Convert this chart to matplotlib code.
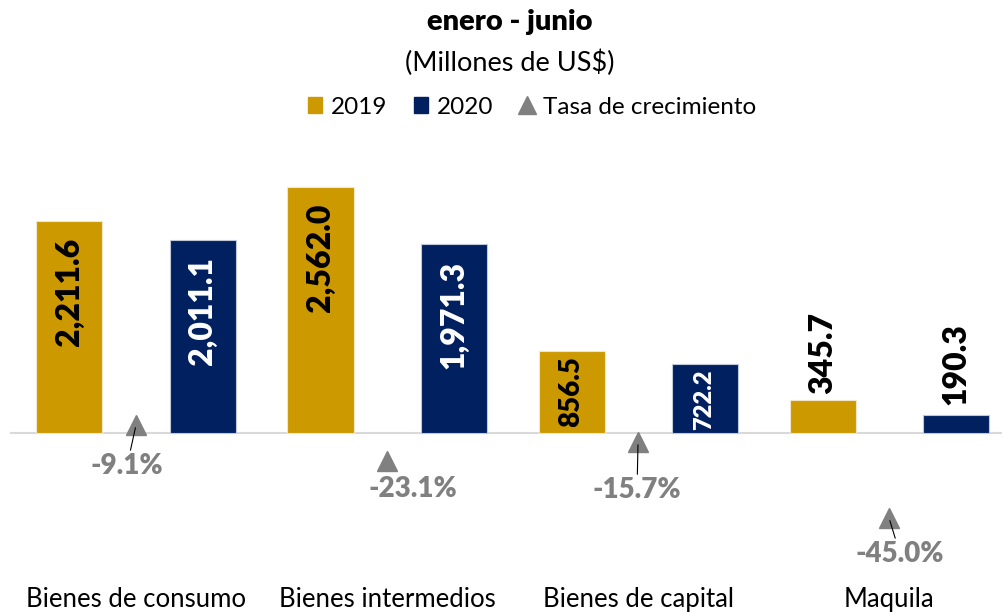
import matplotlib
matplotlib.use("Agg")
import matplotlib.pyplot as plt
from matplotlib.lines import Line2D
from matplotlib.patches import Patch
import numpy as np

plt.rcParams['font.family'] = ['Lato', 'DejaVu Sans']

categorias = ["Bienes de consumo", "Bienes intermedios", "Bienes de capital", "Maquila"]
valores_2019 = [2211.6, 2562.0, 856.5, 345.7]
valores_2020 = [2011.1, 1971.3, 722.2, 190.3]
tasa = [-9.1, -23.1, -15.7, -45.0]

ORO = "#CC9900"
AZUL = "#002060"
GRIS = "#808080"

W, H = 1002, 616
fig = plt.figure(figsize=(W / 100, H / 100), dpi=100)

# layout in pixels (top-down)
top_px, bot_px = 140, 580
base_px = 433
px_per_unit = 246 / 2562.0
zero2_px = 401.4
px_per_pct = 2.59

ax = fig.add_axes([10 / W, 1 - bot_px / H, 1 - 10 / W, (bot_px - top_px) / H])
ax.set_ylim(-(bot_px - base_px) / px_per_unit, (base_px - top_px) / px_per_unit)
ax.set_xlim(-0.502, 3.45)

x = np.arange(len(categorias))
ancho = 0.263
off = 0.265
b1 = ax.bar(x - off, valores_2019, ancho, color=ORO, edgecolor="#F2E6C9", linewidth=0.8, zorder=2)
b2 = ax.bar(x + off, valores_2020, ancho, color=AZUL, edgecolor="#BFC8D9", linewidth=0.8, zorder=2)
ax.axhline(0, color="#D9D9D9", lw=1.5, zorder=1)

# etiquetas de las barras
def etiqueta(rect, val, color, dentro, size, pad):
    xc = rect.get_x() + rect.get_width() / 2
    h = rect.get_height()
    if dentro:
        ax.annotate(f"{val:,.1f}", (xc, h), xytext=(0, -pad), textcoords="offset points",
                    rotation=90, ha="center", va="top", fontsize=size,
                    fontweight="heavy", color=color, zorder=3)
    else:
        ax.annotate(f"{val:,.1f}", (xc, h), xytext=(0, pad), textcoords="offset points",
                    rotation=90, ha="center", va="bottom", fontsize=size,
                    fontweight="heavy", color="black", zorder=3)

pads_2019 = [12, 12, 4, 4]
pads_2020 = [12, 12, 4, 7]
sizes_2019 = [23, 23, 20, 23]
sizes_2020 = [23, 23, 17, 23]
for i, r in enumerate(b1):
    etiqueta(r, valores_2019[i], "black", i < 3, sizes_2019[i], pads_2019[i])
for i, r in enumerate(b2):
    etiqueta(r, valores_2020[i], "white", i < 3, sizes_2020[i], pads_2020[i])

ax.set_xticks(x)
ax.set_xticklabels(categorias, fontsize=18.5, color="black")
ax.tick_params(axis="x", length=0, pad=5)
ax.set_yticks([])
for s in ax.spines.values():
    s.set_visible(False)

# eje secundario para la tasa
ax2 = ax.twinx()
ax2.set_ylim(-(bot_px - zero2_px) / px_per_pct, (zero2_px - top_px) / px_per_pct)
ax2.plot(x, tasa, linestyle="none", marker="^", markersize=14, color=GRIS, zorder=4)
ax2.set_yticks([])
for s in ax2.spines.values():
    s.set_visible(False)

# desplazamiento de las etiquetas de tasa (pixeles)
desp = [(-9, -41), (26, -28), (-1, -48), (11, -36)]
linea = [True, False, True, True]
for i, t in enumerate(tasa):
    dx, dy = desp[i]
    props = dict(arrowstyle="-", color="black", lw=0.8, shrinkA=0, shrinkB=2) if linea[i] else None
    ax2.annotate(f"{t:.1f}%", (x[i], t), xytext=(dx * 0.72, dy * 0.72), textcoords="offset points",
                 ha="center", va="center", fontsize=20, fontweight="heavy", color=GRIS,
                 arrowprops=props, zorder=5)

fig.text(510 / W, 1 - 22 / H, "enero - junio", ha="center", va="center", fontsize=21, fontweight="heavy")
fig.text(510 / W, 1 - 63 / H, "(Millones de US$)", ha="center", va="center", fontsize=19.5)

handles = [Patch(color=ORO, label="2019"), Patch(color=AZUL, label="2020"),
           Line2D([], [], linestyle="none", marker="^", markersize=13, color=GRIS, label="Tasa de crecimiento")]
fig.legend(handles=handles, loc="center", bbox_to_anchor=(532 / W, 1 - 107 / H), ncol=3,
           frameon=False, fontsize=17.5, handlelength=0.6, handleheight=0.6, handletextpad=0.35,
           columnspacing=1.1, borderpad=0)

fig.savefig("out.png", dpi=100)
